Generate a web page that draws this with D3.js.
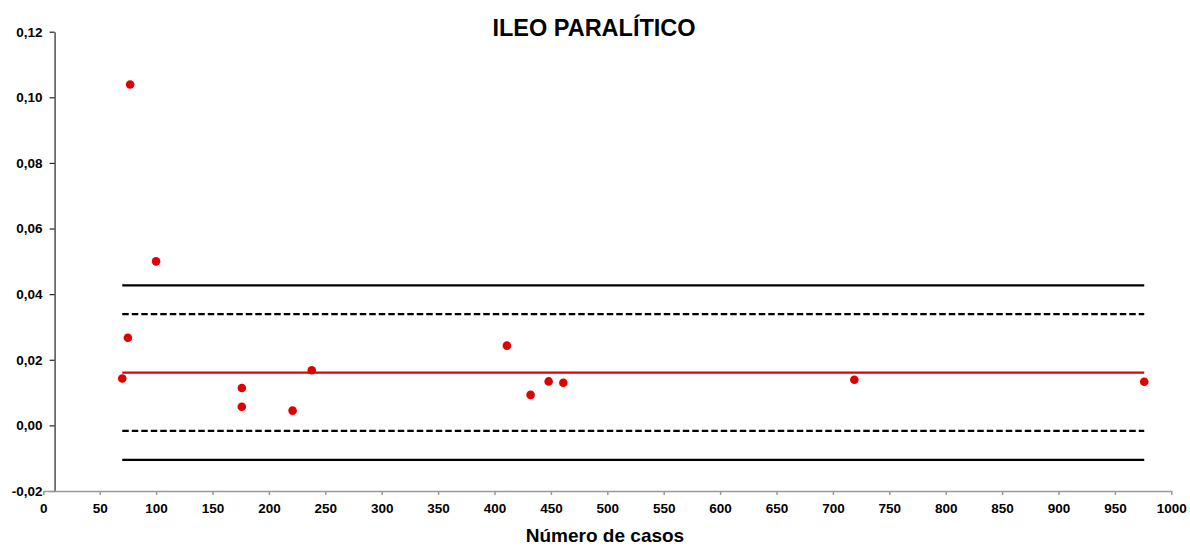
<!DOCTYPE html>
<html lang="es">
<head>
  <meta charset="UTF-8">
  <title>Ileo paralítico</title>
  <script src="https://d3js.org/d3.v7.min.js"></script>
  <style>
    body { margin: 0; background: #fff; }
    svg { font-family: "Liberation Sans", Arial, sans-serif; }
    .tick text { font-weight: bold; font-size: 13.5px; fill: #000; }
  </style>
</head>
<body>
  <svg width="1190" height="546"></svg>
  <script>
    // casos por centro y tasa observada
    const casos = [70, 75, 77, 100, 176, 176, 221, 238, 411, 432, 448, 461, 719, 976];
    const tasas = [0.0143, 0.0267, 0.1039, 0.0500, 0.0114, 0.0057, 0.0045, 0.0168,
                   0.0243, 0.0093, 0.0134, 0.0130, 0.0139, 0.0133];

    // tasa media y límites de control
    const media = 0.0161;
    const limites2 = [-0.0017, 0.0339];
    const limites3 = [-0.0105, 0.0427];

    const xTicks = d3.range(0, 1001, 50);
    const yTicks = [-0.02, 0, 0.02, 0.04, 0.06, 0.08, 0.10, 0.12];

    const svg = d3.select("svg");
    const x = d3.scaleLinear().domain([0, 1000]).range([43.3, 1171.3]);
    const y = d3.scaleLinear().domain([-0.02, 0.12]).range([491, 31.7]);
    const fmt = d => d3.format(".2f")(d).replace(".", ",").replace("\u2212", "-");

    // eje X (cruza en y = -0,02)
    const gx = svg.append("g")
      .attr("transform", `translate(0,${y(-0.02)})`)
      .call(d3.axisBottom(x).tickValues(xTicks).tickFormat(d3.format("d"))
        .tickSize(4).tickPadding(8).tickSizeOuter(0));
    gx.selectAll("path, line").attr("stroke", "#999").attr("stroke-width", 1.5);

    // eje Y (cruza en x = 10)
    const gy = svg.append("g")
      .attr("transform", `translate(${x(10)},0)`)
      .call(d3.axisLeft(y).tickValues(yTicks).tickFormat(fmt).tickSize(5).tickPadding(7).tickSizeOuter(0));
    gy.select("path").attr("stroke", "#222").attr("stroke-width", 1.2);
    gy.selectAll("line").attr("stroke", "#222").attr("stroke-width", 1.2);
    svg.node().appendChild(gx.node());

    const x0 = d3.min(casos), x1 = d3.max(casos);
    const hline = (v, color, dash) => svg.append("line")
      .attr("x1", x(x0)).attr("x2", x(x1))
      .attr("y1", y(v)).attr("y2", y(v))
      .attr("stroke", color).attr("stroke-width", 2.2)
      .attr("stroke-dasharray", dash);

    limites3.forEach(v => hline(v, "#000", null));
    limites2.forEach(v => hline(v, "#000", "6.5,3"));
    hline(media, "#e00000", null);

    svg.append("g").selectAll("circle")
      .data(casos)
      .join("circle")
      .attr("cx", d => x(d))
      .attr("cy", (d, i) => y(tasas[i]))
      .attr("r", 4.3)
      .attr("fill", "#e00000");

    svg.append("text")
      .attr("x", 594).attr("y", 36)
      .attr("text-anchor", "middle")
      .attr("font-size", "23.5px").attr("font-weight", "bold")
      .text("ILEO PARALÍTICO");

    svg.append("text")
      .attr("x", 605).attr("y", 542)
      .attr("text-anchor", "middle")
      .attr("font-size", "19px").attr("font-weight", "bold")
      .text("Número de casos");
  </script>
</body>
</html>
